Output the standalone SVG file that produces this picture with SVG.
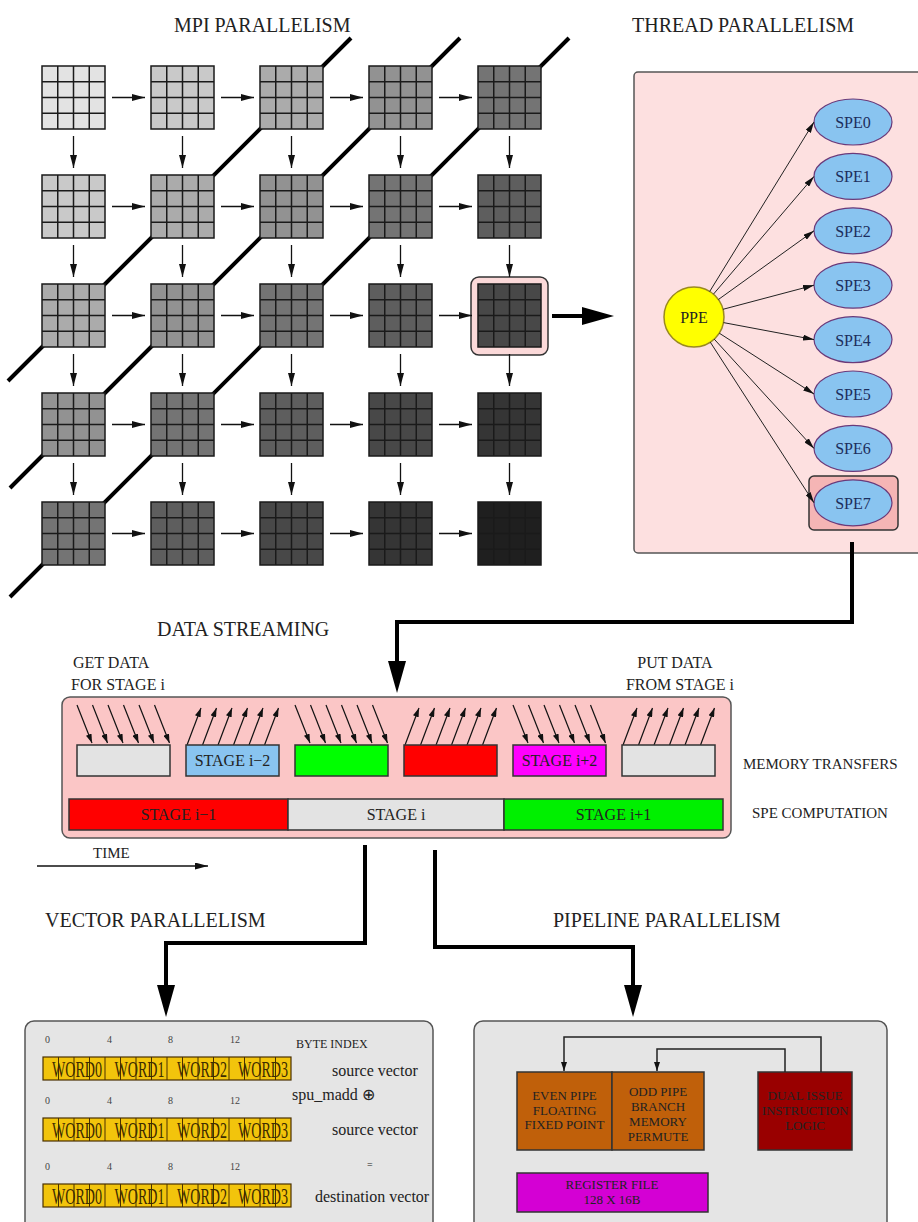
<svg xmlns="http://www.w3.org/2000/svg" xmlns:xlink="http://www.w3.org/1999/xlink" width="918" height="1222" viewBox="0 0 918 1222">
<style>
.t{font-family:"Liberation Serif","Times New Roman",serif;fill:#222}
.title{font-size:20px}
.lbl{font-size:16px}
.sq{stroke:#1a1a1a;stroke-width:1.5}
.gl{stroke:#1a1a1a;stroke-width:1.5;fill:none}
.ar{stroke:#111;stroke-width:1.3;fill:none;marker-end:url(#ah)}
.thick{stroke:#000;stroke-width:4;fill:none}
.bigar{stroke:#000;stroke-width:4;fill:none;marker-end:url(#bh)}
.sa{stroke:#222;stroke-width:1;fill:none;marker-end:url(#sh)}
.ma{stroke:#111;stroke-width:1.2;fill:none;marker-end:url(#mh)}
.pa{stroke:#222;stroke-width:1.5;fill:none;marker-end:url(#mh)}
.spe{fill:#89c4f0;stroke:#6a3a7a;stroke-width:1.2}
.spet{font-size:16px;fill:#1c2d5c;text-anchor:middle}
.panel{stroke:#555;stroke-width:1.5}
.box{stroke:#333;stroke-width:1.5}
.c{text-anchor:middle}
.pt{font-size:13px;text-anchor:middle}
.word{font-size:24px;fill:#3d2b00;text-anchor:middle}
.idx{font-size:10px;fill:#444}
</style>
<defs>
<marker id="ah" markerUnits="userSpaceOnUse" viewBox="0 0 13 7" markerWidth="13" markerHeight="7" refX="13" refY="3.5" orient="auto"><path d="M0,0 L13,3.5 L0,7 z" fill="#111"/></marker>
<marker id="bh" markerUnits="userSpaceOnUse" viewBox="0 0 32 18" markerWidth="32" markerHeight="18" refX="24" refY="9" orient="auto"><path d="M0,0 L32,9 L0,18 z" fill="#000"/></marker>
<marker id="sh" markerUnits="userSpaceOnUse" viewBox="0 0 11 6" markerWidth="11" markerHeight="6" refX="11" refY="3" orient="auto"><path d="M0,0 L11,3 L0,6 z" fill="#111"/></marker>
<marker id="mh" markerUnits="userSpaceOnUse" viewBox="0 0 9 6" markerWidth="9" markerHeight="6" refX="9" refY="3" orient="auto"><path d="M0,0 L9,3 L0,6 z" fill="#111"/></marker>
<path id="gl" class="gl" d="M15.75 0V63M31.5 0V63M47.25 0V63M0 15.75H63M0 31.5H63M0 47.25H63"/>
<g id="dn"><path class="ma" d="M0 0L15 38"/><path class="ma" d="M15.5 0L30.5 38"/><path class="ma" d="M31 0L46 38"/><path class="ma" d="M46.5 0L61.5 38"/><path class="ma" d="M62 0L77 38"/><path class="ma" d="M77.5 0L92.5 38"/></g>
<g id="up"><path class="ma" d="M1 40L15 3"/><path class="ma" d="M16.5 40L30.5 3"/><path class="ma" d="M32 40L46 3"/><path class="ma" d="M47.5 40L61.5 3"/><path class="ma" d="M63 40L77 3"/><path class="ma" d="M78.5 40L92.5 3"/></g>
<g id="harr"><path class="ar" d="M112 0H145"/><path class="ar" d="M221 0H254"/><path class="ar" d="M330 0H363"/><path class="ar" d="M439 0H472"/></g>
<g id="varr"><path class="ar" d="M0 136V168"/><path class="ar" d="M0 245V277"/><path class="ar" d="M0 354V386"/><path class="ar" d="M0 463V495"/></g>
<g id="vrow">
<rect x="0" y="0" width="248" height="23" fill="#f2c40c" stroke="#4a3000" stroke-width="1.2"/>
<path d="M15.5 0V23M31 0V23M46.5 0V23M62 0V23M77.5 0V23M93 0V23M108.5 0V23M124 0V23M139.5 0V23M155 0V23M170.5 0V23M186 0V23M201.5 0V23M217 0V23M232.5 0V23" stroke="#4a3000" stroke-width="1" fill="none"/>
<text class="t word" x="34" y="20" textLength="50" lengthAdjust="spacingAndGlyphs">WORD0</text>
<text class="t word" x="96.5" y="20" textLength="50" lengthAdjust="spacingAndGlyphs">WORD1</text>
<text class="t word" x="159" y="20" textLength="50" lengthAdjust="spacingAndGlyphs">WORD2</text>
<text class="t word" x="220" y="20" textLength="50" lengthAdjust="spacingAndGlyphs">WORD3</text>
<text class="t idx" x="2" y="-14">0</text>
<text class="t idx" x="64" y="-14">4</text>
<text class="t idx" x="125" y="-14">8</text>
<text class="t idx" x="187" y="-14">12</text>
</g>
</defs>
<rect width="918" height="1222" fill="#fff"/>

<!-- titles -->
<text class="t title" x="174" y="32">MPI PARALLELISM</text>
<text class="t title" x="632" y="32">THREAD PARALLELISM</text>
<text class="t title" x="157" y="636">DATA STREAMING</text>
<text class="t title" x="45" y="927">VECTOR PARALLELISM</text>
<text class="t title" x="553" y="927">PIPELINE PARALLELISM</text>

<!-- MPI grid -->
<g id="mpi">
<g id="wavefronts" class="thick">
<path d="M351 38L8 381"/>
<path d="M460 38L10 488"/>
<path d="M569 38L10 597"/>
</g>
<rect id="hl" x="471" y="277" width="77" height="78" rx="8" fill="#fbd9d9" stroke="#333" stroke-width="1.5"/>
<g id="squares">
<rect class="sq" x="42" y="66" width="63" height="63" fill="#e3e3e3"/><use href="#gl" x="42" y="66"/>
<rect class="sq" x="151" y="66" width="63" height="63" fill="#c9c9c9"/><use href="#gl" x="151" y="66"/>
<rect class="sq" x="260" y="66" width="63" height="63" fill="#ababab"/><use href="#gl" x="260" y="66"/>
<rect class="sq" x="369" y="66" width="63" height="63" fill="#929292"/><use href="#gl" x="369" y="66"/>
<rect class="sq" x="478" y="66" width="63" height="63" fill="#747474"/><use href="#gl" x="478" y="66"/>
<rect class="sq" x="42" y="175" width="63" height="63" fill="#c9c9c9"/><use href="#gl" x="42" y="175"/>
<rect class="sq" x="151" y="175" width="63" height="63" fill="#ababab"/><use href="#gl" x="151" y="175"/>
<rect class="sq" x="260" y="175" width="63" height="63" fill="#929292"/><use href="#gl" x="260" y="175"/>
<rect class="sq" x="369" y="175" width="63" height="63" fill="#747474"/><use href="#gl" x="369" y="175"/>
<rect class="sq" x="478" y="175" width="63" height="63" fill="#5e5e5e"/><use href="#gl" x="478" y="175"/>
<rect class="sq" x="42" y="284" width="63" height="63" fill="#ababab"/><use href="#gl" x="42" y="284"/>
<rect class="sq" x="151" y="284" width="63" height="63" fill="#929292"/><use href="#gl" x="151" y="284"/>
<rect class="sq" x="260" y="284" width="63" height="63" fill="#747474"/><use href="#gl" x="260" y="284"/>
<rect class="sq" x="369" y="284" width="63" height="63" fill="#5e5e5e"/><use href="#gl" x="369" y="284"/>
<rect class="sq" x="478" y="284" width="63" height="63" fill="#484848"/><use href="#gl" x="478" y="284"/>
<rect class="sq" x="42" y="393" width="63" height="63" fill="#929292"/><use href="#gl" x="42" y="393"/>
<rect class="sq" x="151" y="393" width="63" height="63" fill="#747474"/><use href="#gl" x="151" y="393"/>
<rect class="sq" x="260" y="393" width="63" height="63" fill="#5e5e5e"/><use href="#gl" x="260" y="393"/>
<rect class="sq" x="369" y="393" width="63" height="63" fill="#484848"/><use href="#gl" x="369" y="393"/>
<rect class="sq" x="478" y="393" width="63" height="63" fill="#353535"/><use href="#gl" x="478" y="393"/>
<rect class="sq" x="42" y="502" width="63" height="63" fill="#747474"/><use href="#gl" x="42" y="502"/>
<rect class="sq" x="151" y="502" width="63" height="63" fill="#5e5e5e"/><use href="#gl" x="151" y="502"/>
<rect class="sq" x="260" y="502" width="63" height="63" fill="#484848"/><use href="#gl" x="260" y="502"/>
<rect class="sq" x="369" y="502" width="63" height="63" fill="#353535"/><use href="#gl" x="369" y="502"/>
<rect class="sq" x="478" y="502" width="63" height="63" fill="#1f1f1f"/><use href="#gl" x="478" y="502"/>
</g>
<g id="grid-arrows">
<use href="#harr" x="0" y="97.5"/>
<use href="#harr" x="0" y="206.5"/>
<use href="#harr" x="0" y="315.5"/>
<use href="#harr" x="0" y="424.5"/>
<use href="#harr" x="0" y="533.5"/>
<use href="#varr" x="73.5" y="0"/>
<use href="#varr" x="182.5" y="0"/>
<use href="#varr" x="291.5" y="0"/>
<use href="#varr" x="400.5" y="0"/>
<use href="#varr" x="509.5" y="0"/>
</g>
</g>

<!-- Thread panel -->
<g id="thread">
<rect class="panel" x="634" y="72" width="300" height="481" rx="4" fill="#fde0e0"/>
<rect id="spe7hl" x="809" y="476" width="89" height="54" rx="5" fill="#f5b5b5" stroke="#333" stroke-width="1.5"/>
<g id="ppe"><circle cx="694" cy="317" r="30" fill="#ffff00" stroke="#9a8a20" stroke-width="1.5"/><text class="t" x="694" y="323" font-size="16" text-anchor="middle" fill="#3a3a10">PPE</text></g>
<g id="spe0"><ellipse class="spe" cx="853" cy="122" rx="39" ry="23"/><text class="t spet" x="853" y="128">SPE0</text></g>
<g id="spe1"><ellipse class="spe" cx="853" cy="176.4" rx="39" ry="23"/><text class="t spet" x="853" y="182">SPE1</text></g>
<g id="spe2"><ellipse class="spe" cx="853" cy="230.8" rx="39" ry="23"/><text class="t spet" x="853" y="237">SPE2</text></g>
<g id="spe3"><ellipse class="spe" cx="853" cy="285.2" rx="39" ry="23"/><text class="t spet" x="853" y="291">SPE3</text></g>
<g id="spe4"><ellipse class="spe" cx="853" cy="339.6" rx="39" ry="23"/><text class="t spet" x="853" y="346">SPE4</text></g>
<g id="spe5"><ellipse class="spe" cx="853" cy="394" rx="39" ry="23"/><text class="t spet" x="853" y="400">SPE5</text></g>
<g id="spe6"><ellipse class="spe" cx="853" cy="448.4" rx="39" ry="23"/><text class="t spet" x="853" y="454">SPE6</text></g>
<g id="spe7"><ellipse class="spe" cx="853" cy="502.8" rx="39" ry="23"/><text class="t spet" x="853" y="509">SPE7</text></g>
<g id="thread-edges">
<path class="sa" d="M709.7 291.5L814 122"/>
<path class="sa" d="M713.5 294.1L814 176.4"/>
<path class="sa" d="M718.4 299.5L814 230.8"/>
<path class="sa" d="M723 309.3L814 285.2"/>
<path class="sa" d="M723.5 322.6L814 339.6"/>
<path class="sa" d="M719.3 333.2L814 394"/>
<path class="sa" d="M714.2 339.1L814 448.4"/>
<path class="sa" d="M710.3 342.2L814 502.8"/>
</g>
</g>

<!-- Data streaming -->
<g id="streaming">
<text class="t lbl" x="73" y="668">GET DATA</text>
<text class="t lbl" x="71" y="690">FOR STAGE i</text>
<text class="t lbl" x="675" y="668" text-anchor="middle">PUT DATA</text>
<text class="t lbl" x="680" y="690" text-anchor="middle">FROM STAGE i</text>
<rect class="panel" x="62" y="697" width="669" height="141" rx="8" fill="#fbc6c6"/>
<g id="transfers">
<use href="#dn" x="77" y="705"/>
<use href="#up" x="186" y="705"/>
<use href="#dn" x="295" y="705"/>
<use href="#up" x="404" y="705"/>
<use href="#dn" x="513" y="705"/>
<use href="#up" x="622" y="705"/>
</g>
<g id="mem1"><rect class="box" x="77" y="745" width="93" height="31" fill="#e3e3e3"/></g>
<g id="mem2"><rect class="box" x="186" y="745" width="93" height="31" fill="#89c4f0"/><text class="t lbl c" x="232.5" y="766" fill="#1c2d5c">STAGE i−2</text></g>
<g id="mem3"><rect class="box" x="295" y="745" width="93" height="31" fill="#00ff00"/></g>
<g id="mem4"><rect class="box" x="404" y="745" width="93" height="31" fill="#ff0000"/></g>
<g id="mem5"><rect class="box" x="513" y="745" width="93" height="31" fill="#ff00ff"/><text class="t lbl c" x="559.5" y="766" fill="#a020a0">STAGE i+2</text></g>
<g id="mem6"><rect class="box" x="622" y="745" width="93" height="31" fill="#e3e3e3"/></g>
<g id="comp1"><rect class="box" x="69" y="799" width="219" height="31" fill="#ff0000"/><text class="t lbl c" x="178.5" y="820" fill="#b40000">STAGE i−1</text></g>
<g id="comp2"><rect class="box" x="288" y="799" width="216" height="31" fill="#e3e3e3"/><text class="t lbl c" x="396" y="820" fill="#444">STAGE i</text></g>
<g id="comp3"><rect class="box" x="504" y="799" width="219" height="31" fill="#00f000"/><text class="t lbl c" x="613.5" y="820" fill="#2a8a2a">STAGE i+1</text></g>
<text class="t" x="743" y="769" font-size="15">MEMORY TRANSFERS</text>
<text class="t" x="752" y="818" font-size="15">SPE COMPUTATION</text>
<text class="t" x="93" y="858" font-size="15">TIME</text>
<path d="M37 866H208" stroke="#111" stroke-width="1.3" fill="none" marker-end="url(#ah)"/>
</g>

<!-- Vector panel -->
<g id="vector">
<rect class="panel" x="25" y="1021" width="408" height="220" rx="9" fill="#e5e5e5"/>
<use href="#vrow" x="43" y="1057"/>
<use href="#vrow" x="43" y="1118"/>
<use href="#vrow" x="43" y="1184"/>
<text class="t" x="296" y="1048" font-size="12">BYTE INDEX</text>
<text class="t" x="332" y="1076" font-size="16">source vector</text>
<text class="t" x="292" y="1100" font-size="16">spu_madd ⊕</text>
<text class="t" x="332" y="1135" font-size="16">source vector</text>
<text class="t" x="367" y="1168" font-size="10" fill="#555">=</text>
<text class="t" x="315" y="1202" font-size="16">destination vector</text>
</g>

<!-- Pipeline panel -->
<g id="pipeline">
<rect class="panel" x="474" y="1021" width="413" height="220" rx="9" fill="#e5e5e5"/>
<g id="even"><rect class="box" x="517" y="1072" width="95" height="78" fill="#c0600a" stroke="#3a1a00"/>
<text class="t pt" x="564.5" y="1100" fill="#4a1e00">EVEN PIPE</text>
<text class="t pt" x="564.5" y="1115" fill="#4a1e00">FLOATING</text>
<text class="t pt" x="564.5" y="1129" fill="#4a1e00">FIXED POINT</text></g>
<g id="odd"><rect class="box" x="612" y="1072" width="92" height="78" fill="#c0600a" stroke="#3a1a00"/>
<text class="t pt" x="658" y="1096" fill="#4a1e00">ODD PIPE</text>
<text class="t pt" x="658" y="1111" fill="#4a1e00">BRANCH</text>
<text class="t pt" x="658" y="1126" fill="#4a1e00">MEMORY</text>
<text class="t pt" x="658" y="1141" fill="#4a1e00">PERMUTE</text></g>
<g id="dual"><rect class="box" x="758" y="1072" width="94" height="78" fill="#990000" stroke="#3a0000"/>
<text class="t pt" x="805" y="1100" fill="#5c0000">DUAL ISSUE</text>
<text class="t pt" x="805" y="1115" fill="#5c0000">INSTRUCTION</text>
<text class="t pt" x="805" y="1130" fill="#5c0000">LOGIC</text></g>
<g id="regfile"><rect class="box" x="517" y="1173" width="191" height="39" fill="#d400d4" stroke="#3a003a"/>
<text class="t pt" x="612" y="1189" fill="#7a1a7a">REGISTER FILE</text>
<text class="t pt" x="612" y="1204" fill="#7a1a7a">128 X 16B</text></g>
<g id="pipe-edges">
<path class="pa" d="M821 1072V1037H564V1071"/>
<path class="pa" d="M785 1072V1049H657V1071"/>
</g>
</g>

<!-- main connectors -->
<g id="connectors">
<path class="bigar" d="M552 316H606"/>
<path class="bigar" d="M852 542V622H397V685"/>
<path class="bigar" d="M365 845V943H166V1009"/>
<path class="bigar" d="M435 850V947H633V1009"/>
</g>
</svg>
